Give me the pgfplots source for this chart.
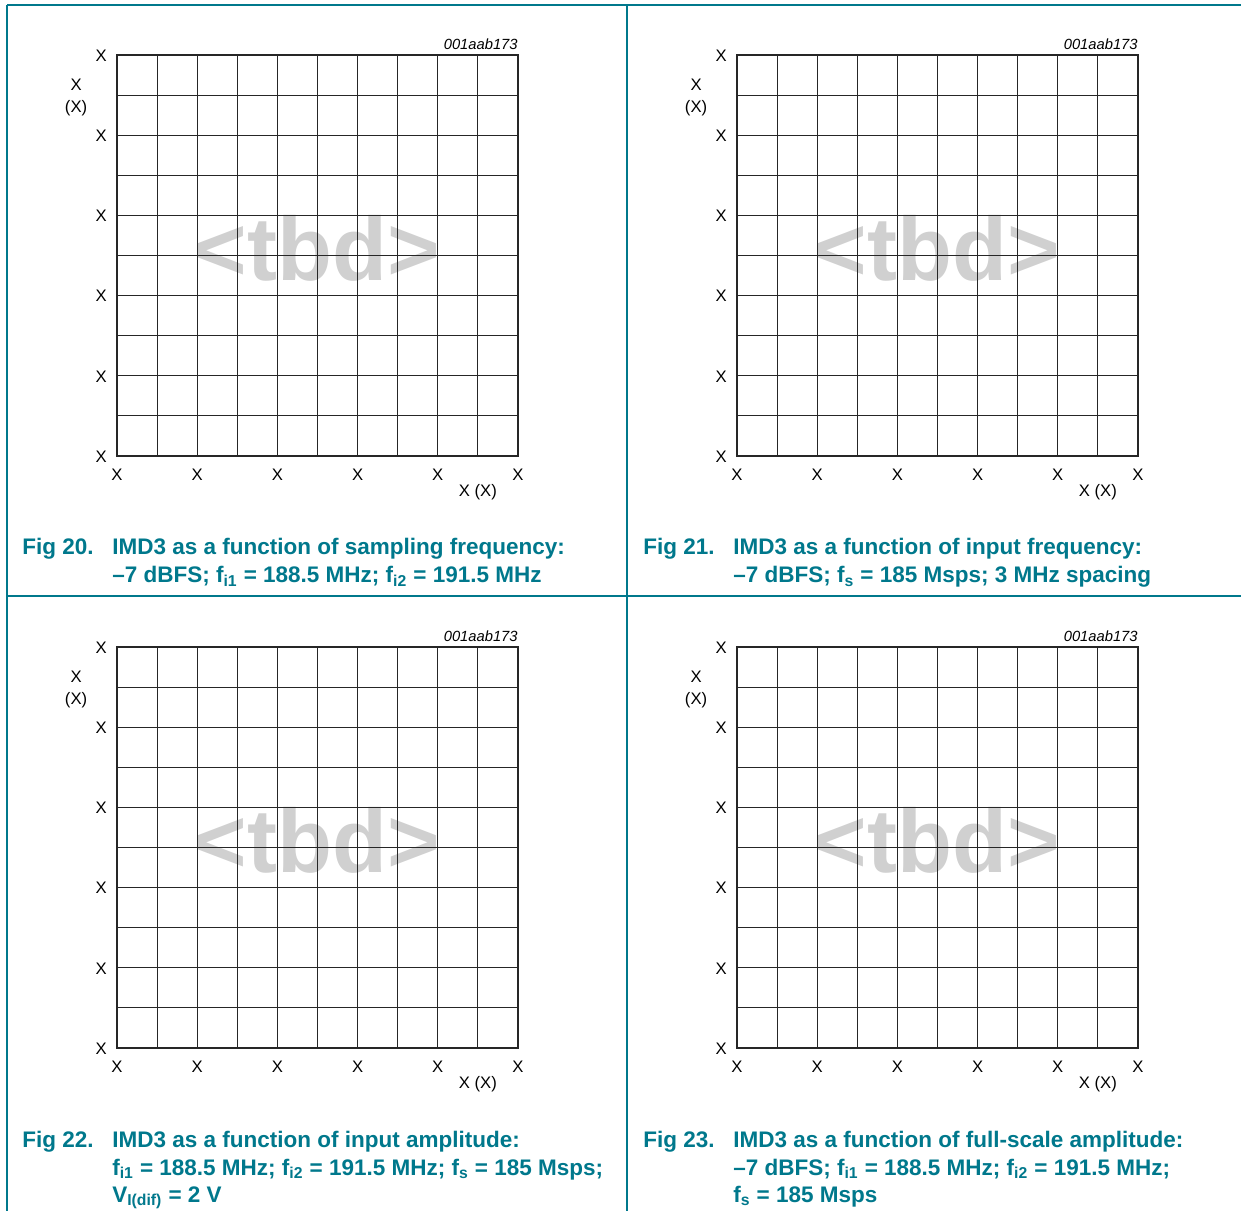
\documentclass[border=0pt]{standalone}
\usepackage{fontspec}
\setmainfont{Liberation Sans}
\usepackage{pgfplots}
\pgfplotsset{compat=1.18}
\definecolor{nxpteal}{RGB}{0,120,140}
\definecolor{tbdgray}{RGB}{208,208,208}

% one empty graph panel; #1,#2 = offset of the panel in pt
\newcommand{\graphpanel}[2]{%
  \begin{axis}[
      at={({70.2pt+#1},{-273.6pt+#2})}, anchor=south west,
      scale only axis, width=240.6pt, height=240.6pt,
      xmin=0, xmax=10, ymin=0, ymax=10,
      xtick={0,2,...,10}, ytick={0,2,...,10},
      minor xtick={1,3,...,9}, minor ytick={1,3,...,9},
      xticklabels={X,X,X,X,X,X}, yticklabels={X,X,X,X,X,X},
      grid=both,
      major grid style={line width=0.7pt, draw=black!85},
      minor grid style={line width=0.7pt, draw=black!85},
      axis line style={line width=0.7pt, draw=black!85},
      major tick length=0pt, minor tick length=0pt,
      tick label style={font=\fontsize{10}{12}\selectfont},
      xticklabel style={inner sep=0pt, anchor=north, yshift=-7.4pt},
      yticklabel style={inner sep=0pt, anchor=east, xshift=-6pt, yshift=-0.4pt},
      axis on top, clip=false,
    ]
    \node[font=\bfseries\fontsize{54}{54}\selectfont, text=tbdgray] at (axis cs:5,5.19) {<tbd>};
    \node[font=\fontsize{10}{13.2}\selectfont, align=center] at (axis cs:-1.02,8.95) {X\\(X)};
    \node[font=\fontsize{10}{12}\selectfont] at (axis cs:9.0,-0.9) {X (X)};
    \node[font=\itshape\fontsize{8.85}{10}\selectfont, anchor=east, inner sep=0pt] at (axis cs:10,10.27) {001aab173};
  \end{axis}%
}

\begin{document}
\begin{tikzpicture}[x=0.6pt, y=-0.6pt]
  \useasboundingbox (0,0) rectangle (1241,1211);
  % frame lines
  \draw[nxpteal, line width=0.8pt] (7,5) -- (1241,5);
  \draw[nxpteal, line width=0.8pt] (7,596) -- (1241,596);
  \draw[nxpteal, line width=0.8pt] (7,5) -- (7,1211);
  \draw[nxpteal, line width=0.8pt] (627,5) -- (627,1211);

  \graphpanel{0pt}{0pt}
  \graphpanel{372pt}{0pt}
  \graphpanel{0pt}{-355.2pt}
  \graphpanel{372pt}{-355.2pt}

  \begin{scope}[every node/.style={anchor=base west, inner sep=0pt, text=nxpteal,
      font=\bfseries\fontsize{13.5}{15}\selectfont}]
    \node at (22,555) {Fig 20.};
    \node at (112,555) {IMD3 as a function of sampling frequency:};
    \node at (112,583) {–7 dBFS; f\textsubscript{i1} = 188.5 MHz; f\textsubscript{i2} = 191.5 MHz};
    \node at (643,555) {Fig 21.};
    \node at (733,555) {IMD3 as a function of input frequency:};
    \node at (733,583) {–7 dBFS; f\textsubscript{s} = 185 Msps; 3 MHz spacing};
    \node at (22,1147) {Fig 22.};
    \node at (112,1147) {IMD3 as a function of input amplitude:};
    \node at (112,1175) {f\textsubscript{i1} = 188.5 MHz; f\textsubscript{i2} = 191.5 MHz; f\textsubscript{s} = 185 Msps;};
    \node at (112,1202) {V\textsubscript{I(dif)} = 2 V};
    \node at (643,1147) {Fig 23.};
    \node at (733,1147) {IMD3 as a function of full-scale amplitude:};
    \node at (733,1175) {–7 dBFS; f\textsubscript{i1} = 188.5 MHz; f\textsubscript{i2} = 191.5 MHz;};
    \node at (733,1202) {f\textsubscript{s} = 185 Msps};
  \end{scope}
\end{tikzpicture}
\end{document}
